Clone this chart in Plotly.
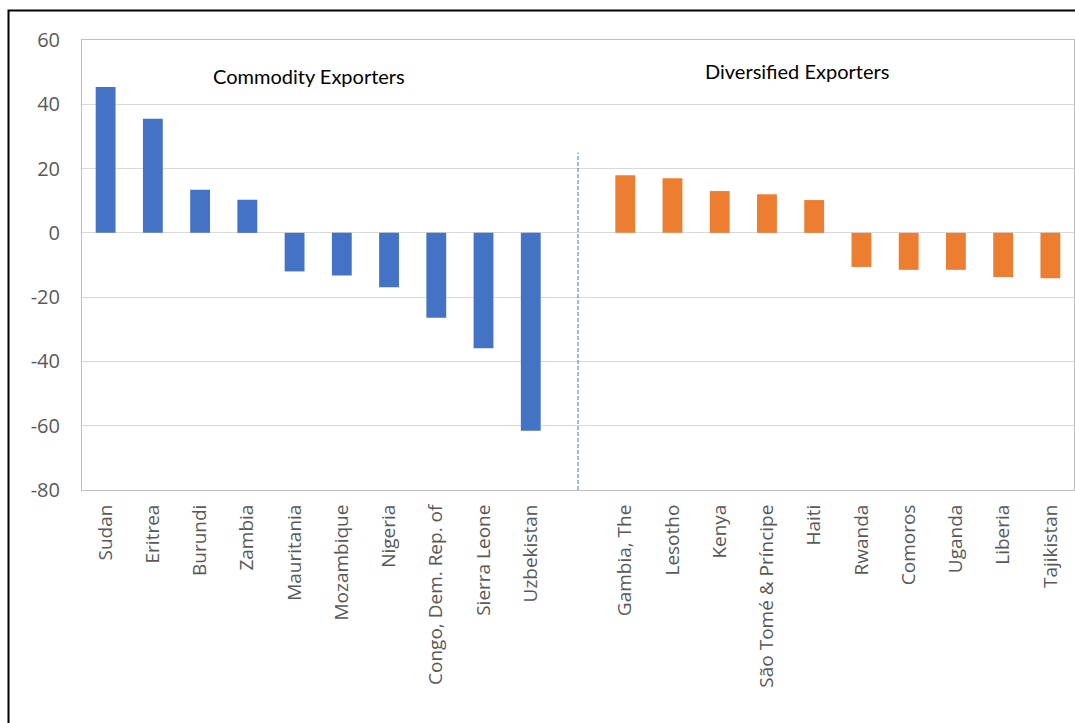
import plotly.graph_objects as go

commodity = ["Sudan", "Eritrea", "Burundi", "Zambia", "Mauritania", "Mozambique",
             "Nigeria", "Congo, Dem. Rep. of", "Sierra Leone", "Uzbekistan"]
commodity_vals = [45.4, 35.5, 13.4, 10.3, -12.0, -13.3, -16.9, -26.4, -35.9, -61.6]

diversified = ["Gambia, The", "Lesotho", "Kenya", "São Tomé & Príncipe", "Haiti",
               "Rwanda", "Comoros", "Uganda", "Liberia", "Tajikistan"]
diversified_vals = [17.9, 17.0, 13.0, 12.0, 10.2, -10.6, -11.5, -11.5, -13.7, -14.1]

gap = " "
categories = commodity + [gap] + diversified
y_ticks = [60, 40, 20, 0, -20, -40, -60, -80]
y_ticktext = ["60", "40", "20", "0", "-20", "-40", "-60", "-80"]

fig = go.Figure()
fig.add_trace(go.Bar(x=commodity, y=commodity_vals, marker_color="#4472C4",
                     marker_line_width=0, name="Commodity Exporters"))
fig.add_trace(go.Bar(x=diversified, y=diversified_vals, marker_color="#ED7D31",
                     marker_line_width=0, name="Diversified Exporters"))

W, H = 1075, 723
L, R, T, B = 82, 1, 40, 233
pw, ph = W - L - R, H - T - B

fig.update_layout(
    width=W, height=H,
    margin=dict(l=L, r=R, t=T, b=B),
    paper_bgcolor="white", plot_bgcolor="white",
    barmode="overlay", bargap=0.58,
    showlegend=False,
    font=dict(family="Open Sans", color="#595959"),
)
fig.update_xaxes(
    type="category", categoryorder="array", categoryarray=categories,
    tickangle=-90, tickfont=dict(size=19, color="#595959", family="Open Sans"),
    showgrid=False, showline=True, linecolor="#bfbfbf", linewidth=1, mirror=True,
    ticks="", ticklabelstandoff=6,
)
fig.update_yaxes(
    range=[-80, 60], tickvals=y_ticks, ticktext=y_ticktext,
    tickfont=dict(size=20, color="#595959", family="Open Sans"),
    showgrid=True, gridcolor="#d9d9d9", gridwidth=1,
    zeroline=True, zerolinecolor="#d9d9d9", zerolinewidth=1,
    showline=True, linecolor="#bfbfbf", linewidth=1, mirror=True,
    ticks="", ticklabelstandoff=17,
)

# separator between groups
fig.add_shape(type="line", xref="x", yref="y", x0=gap, x1=gap, y0=-80, y1=25,
              line=dict(color="#4472C4", width=1, dash="4px,2px"))

# outer frame
fig.add_shape(type="rect", xref="paper", yref="paper",
              x0=(8.5 - L) / pw, x1=1.05, y0=-0.6, y1=(H - B - 10.5) / ph,
              line=dict(color="black", width=2), fillcolor="rgba(0,0,0,0)", layer="above")

fig.add_annotation(text="Commodity Exporters", xref="paper", yref="paper",
                   x=(309 - L) / pw, y=(H - B - 76) / ph, showarrow=False,
                   xanchor="center", yanchor="middle",
                   font=dict(family="Lato", size=20, color="black"))
fig.add_annotation(text="Diversified Exporters", xref="paper", yref="paper",
                   x=(797 - L) / pw, y=(H - B - 71) / ph, showarrow=False,
                   xanchor="center", yanchor="middle",
                   font=dict(family="Lato", size=20, color="black"))

fig.write_html("out.html")
